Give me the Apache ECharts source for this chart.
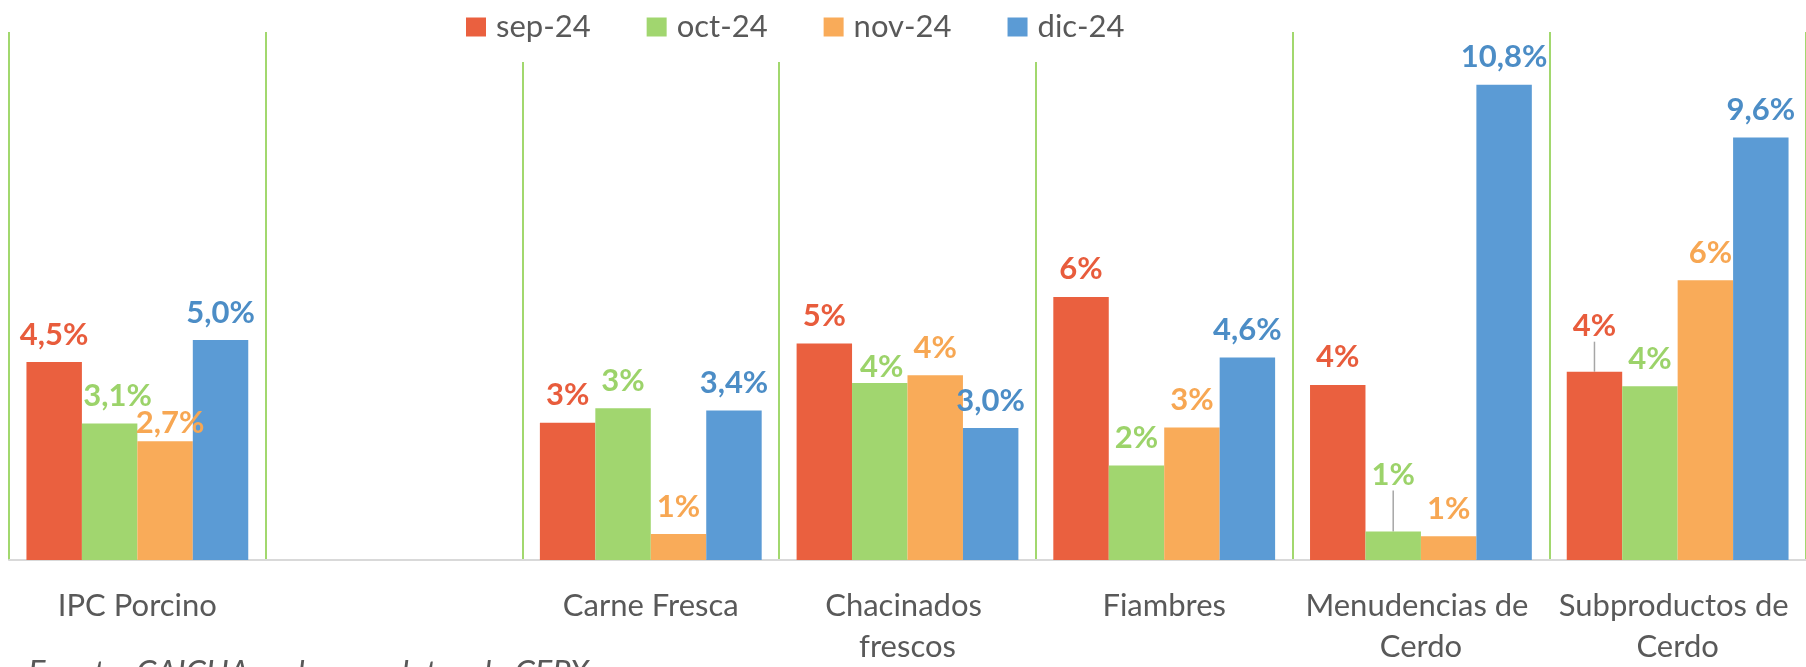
<!DOCTYPE html>
<html>
<head>
<meta charset="utf-8">
<script src="https://cdn.jsdelivr.net/npm/echarts@6/dist/echarts.min.js"></script>
<style>
  html, body { margin: 0; padding: 0; background: #ffffff; }
  #chart { width: 1806px; height: 667px; }
</style>
</head>
<body>
<div id="chart"></div>
<script>
// ---- data ----
const categories = ['IPC Porcino', '', 'Carne Fresca', 'Chacinados frescos', 'Fiambres', 'Menudencias de Cerdo', 'Subproductos de Cerdo'];
const seriesNames = ['sep-24', 'oct-24', 'nov-24', 'dic-24'];
const sep24 = [4.5, null, 3.12, 4.92, 5.98, 3.98, 4.28];
const oct24 = [3.1, null, 3.45, 4.02, 2.15, 0.65, 3.95];
const nov24 = [2.7, null, 0.59, 4.2, 3.01, 0.54, 6.36];
const dic24 = [5.0, null, 3.4, 3.0, 4.6, 10.8, 9.6];
const sourceNote = 'Fuente: CAICHA en base a datos de CEPX';

// ---- styles ----
const barColors = ['#EA603F', '#A1D66F', '#F9AB59', '#5B9BD5'];
const labelColors = ['#E85C3C', '#9CD36A', '#F7A753', '#4C8DC6'];
// manual label nudges (seriesIndex-dataIndex) as in the original
const labelAdjust = {
  '1-0': { dx: 8, dy: 0 },
  '2-0': { dx: 5, dy: 9 },
  '1-3': { dx: 2, dy: 11 },
  '1-5': { dx: 0, dy: -29, line: true },
  '0-6': { dx: 0, dy: -18, line: true },
  '2-6': { dx: 5, dy: 0 }
};

const allValues = [sep24, oct24, nov24, dic24];

function fmt(v, seriesIdx, catIdx) {
  const oneDec = seriesNames[seriesIdx] === 'dic-24' || categories[catIdx] === 'IPC Porcino';
  const s = oneDec ? v.toFixed(1) : Math.round(v).toFixed(0);
  return s.replace('.', ',') + '%';
}

const chart = echarts.init(document.getElementById('chart'), null, { renderer: 'canvas' });

const series = seriesNames.map((name, si) => ({
  name: name,
  type: 'bar',
  barGap: '0%',
  barCategoryGap: '13.6%',
  itemStyle: { color: barColors[si] },
  label: {
    show: true,
    position: 'top',
    distance: 12,
    fontFamily: 'Lato',
    fontWeight: 'bold',
    fontSize: 31,
    color: labelColors[si],
    formatter: (p) => p.value == null ? '' : fmt(p.value, si, p.dataIndex)
  },
  labelLine: { show: false },
  labelLayout: function (params) {
    const a = labelAdjust[params.seriesIndex + '-' + params.dataIndex];
    return a ? { dx: a.dx, dy: a.dy } : {};
  },
  data: allValues[si].map((v, ci) => {
    const a = labelAdjust[si + '-' + ci];
    const item = { value: v };
    if (a && a.line) {
      item.labelLine = { show: true, smooth: false, lineStyle: { color: '#A6A6A6', width: 1.5 } };
    }
    return item;
  })
}));

const option = {
  animation: false,
  backgroundColor: '#ffffff',
  grid: { left: 9, right: -8, top: 32, bottom: 102, containLabel: false },
  legend: {
    data: seriesNames,
    left: 462,
    top: 0,
    icon: 'rect',
    itemWidth: 20,
    itemHeight: 19,
    itemGap: 56,
    backgroundColor: '#ffffff',
    padding: [7, 4, 15, 4],
    textStyle: { fontFamily: 'Lato', fontSize: 31, color: '#595959', lineHeight: 40, padding: [0, 0, 0, 5] }
  },
  xAxis: {
    type: 'category',
    data: categories,
    axisLine: { show: true, lineStyle: { color: '#D9D9D9', width: 2 } },
    axisTick: { show: false },
    splitLine: { show: true, showMinLine: true, showMaxLine: true, lineStyle: { color: '#A2D86E', width: 2 } },
    axisLabel: {
      interval: 0,
      margin: 25,
      fontFamily: 'Lato',
      fontSize: 31,
      color: '#595959',
      lineHeight: 41,
      width: 250,
      overflow: 'break'
    }
  },
  yAxis: {
    type: 'value',
    min: 0,
    max: 12,
    show: false,
    splitLine: { show: false }
  },
  graphic: [{
    type: 'text',
    left: 28,
    top: 657,
    style: { text: sourceNote, fontFamily: 'Lato', fontStyle: 'italic', fontSize: 32.5, fill: '#595959' }
  }],
  series: series
};

chart.setOption(option);
</script>
</body>
</html>
